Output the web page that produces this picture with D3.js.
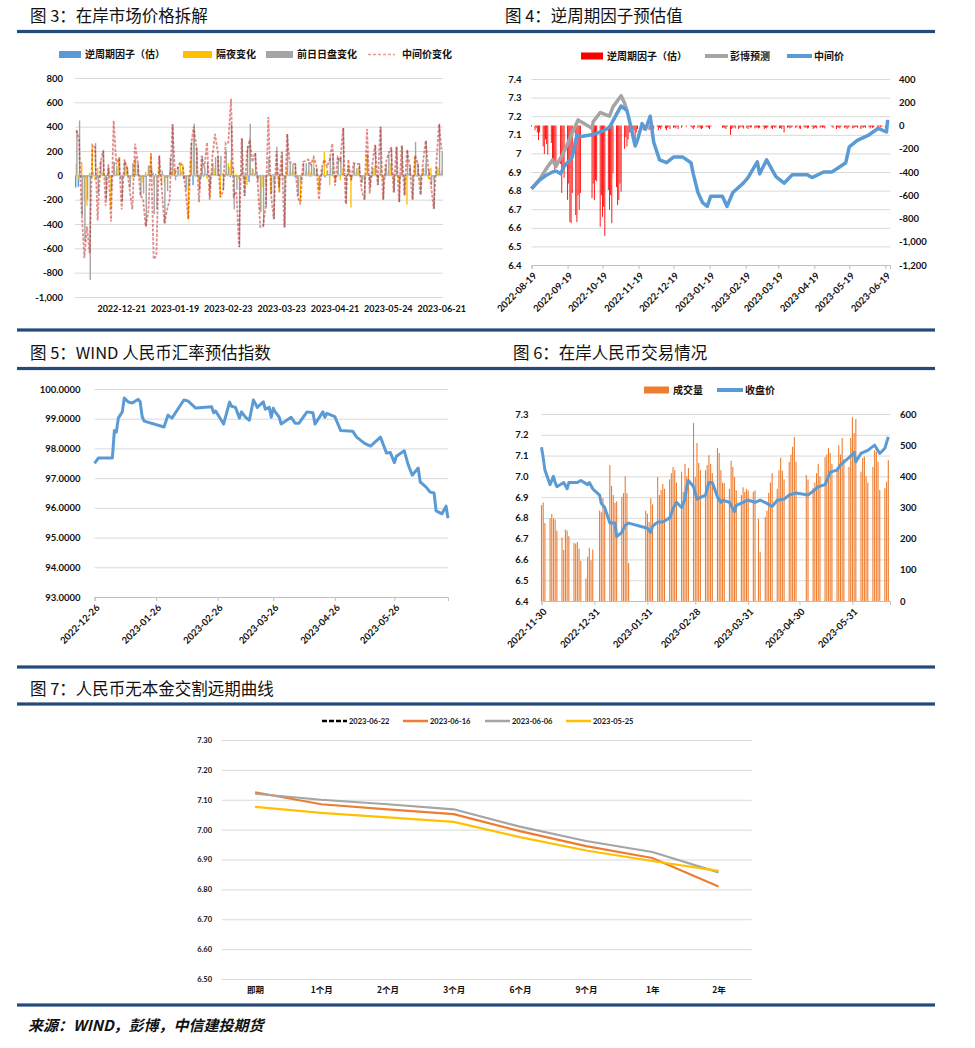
<!DOCTYPE html>
<html lang="zh">
<head>
<meta charset="utf-8">
<script src="https://cdn.jsdelivr.net/npm/d3@7"></script>
<style>
  body { margin: 0; background: #fff; }
  text { font-family: Lato, "Noto Sans CJK SC", sans-serif; }
  .title { font-family: "Noto Sans CJK SC", sans-serif; font-size: 16.5px; fill: #111; }
  .ax { font-size: 9.5px; font-weight: 700; fill: #111; }
  .ax9 { font-size: 9px; font-weight: 700; fill: #111; }
  .lg { font-family: "Noto Sans CJK SC", sans-serif; font-size: 10px; font-weight: 700; fill: #111; }
  .sm { font-size: 7.5px; font-weight: 700; fill: #111; }
  .smcn { font-family: "Noto Sans CJK SC", sans-serif; font-size: 8.5px; font-weight: 700; fill: #111; }
  .src { font-family: "Noto Sans CJK SC", sans-serif; font-size: 15px; font-style: italic; font-weight: 700; fill: #111; }
</style>
</head>
<body>
<svg id="chart" width="975" height="1048"></svg>
<script>
// CFETS holidays inside the plotted ranges
const HOLIDAYS = ["2022-09-12", "2022-10-03", "2022-10-04", "2022-10-05", "2022-10-06", "2022-10-07",
  "2023-01-02", "2023-01-23", "2023-01-24", "2023-01-25", "2023-01-26", "2023-01-27",
  "2023-04-05", "2023-05-01", "2023-05-02", "2023-05-03"];

// ---------- 图3 在岸市场价格拆解 (one value per trading day, 2022-11-28 .. 2023-06-21) ----------
const F3_FIRST_DAY = "2022-11-28";
const F3_LAST_DAY = "2023-06-21";
const F3_LABEL_FIRST = 17;
const F3_LABEL_EVERY = 20;
const f3Cycle = [
  -100, -95, -20, -15, -20, -10, -15, -5, -20, -10,
  -5, -10, 5, -15, -10, -5, 10, -20, -10, 5,
  -10, 5, -15, 5, -10, -20, -15, 10, -5, 20,
  10, -5, -10, 5, -20, -10, 30, -5, -10, 5,
  5, -20, -10, 5, -80, -10, 5, -20, -10, 10,
  -10, 5, 10, -5, -10, 5, -10, 10, -15, 5,
  -10, -10, 5, -10, 5, -55, 10, -5, 10, -10,
  5, -10, 5, -5, 10, -5, -10, 5, -10, 5,
  -5, 5, -10, 5, -5, 10, -5, 5, -10, 5,
  -5, 5, -10, 5, -5, 10, -5, 5, -10, 5,
  10, -5, 5, -10, 5, -5, 10, -5, -10, 5,
  5, -10, 5, -5, 10, -5, -10, 5, -5, 10,
  -5, 5, -10, 5, -5, 10, -5, 5, -10, 5,
  -5, 10, -5, 5, -10, 5, 10, 15];
const f3Overnight = [
  100, -30, 110, -200, -250, 20, 225, -40, 60, -20,
  30, -60, 40, -275, 100, 40, 150, -40, 30, 80,
  -40, -20, 130, 50, -30, -60, 30, 80, 180, -80,
  -20, 60, -80, -60, -20, 40, 60, 40, 30, 90,
  90, -40, -360, 130, 350, 120, -40, 80, 20, -30,
  -180, 40, 60, 150, -180, 20, 30, 100, 130, 60,
  10, -30, 40, -60, -80, 310, 60, 20, -50, -300,
  -100, -80, 40, -150, -60, 30, -140, 90, -40, 60,
  20, 40, 30, -80, -210, 20, 30, 40, 30, 140,
  30, -130, 20, 195, 40, -80, 60, -30, 40, -40,
  60, -30, 80, -265, 40, 30, 60, -60, -40, 170,
  -40, 30, 80, -20, 60, -40, 50, 40, 100, -60,
  40, -60, 100, -40, -240, 60, -30, 150, 30, -60,
  40, 100, -30, 60, -40, 30, 60, 40];
const f3DaySession = [
  370, 450, -330, -545, -200, -860, 30, 265, -150, 120,
  210, -200, 60, -120, 110, 80, 150, -215, 120, 60,
  -100, 100, 150, 100, -170, -150, -420, 80, 60, -320,
  -280, 165, 40, -395, -130, 145, 420, -40, 70, 40,
  -30, -120, -90, 270, 425, 230, -120, 160, 60, 100,
  -110, 100, 150, 160, 160, -120, 210, 70, 420, -280,
  -120, -590, 305, -170, 240, 425, 50, 185, -40, -300,
  -420, -260, 150, -150, -360, 235, -140, 195, -425, 340,
  100, 90, 100, -170, -60, 100, 100, 110, 90, 60,
  60, -100, 60, -20, 40, 150, 180, -50, 145, 145,
  390, -235, 60, -40, 100, 60, 95, -60, -200, 175,
  -100, 60, 250, -80, 400, -200, 90, 175, 230, -140,
  235, -220, 245, -165, 210, 80, -200, 275, 100, -160,
  60, 285, 50, -80, -275, 70, 425, 200];
const f3Fixing = [
  370, 300, -300, -680, -420, -640, 250, 230, -370, 100,
  200, -250, 90, -380, 450, 90, 140, -280, 130, 60,
  -120, -280, 260, 120, -170, -190, -420, -300, 180, -690,
  -660, 160, -100, -395, -285, -200, 420, 20, 60, 110,
  60, -130, -360, 240, 400, 240, -220, 160, 60, 270,
  -200, 150, 340, 200, -180, -130, 270, 270, 630, -170,
  -130, -590, 305, -170, 190, 290, 110, 185, -60, -425,
  -420, -260, 480, -150, -360, 200, -100, 190, -430, 340,
  110, 100, 90, -170, -240, 110, 120, 130, 90, 150,
  80, -200, 60, 130, 70, 130, 260, -85, 150, 120,
  390, -235, 130, -40, 100, 90, 95, -120, -200, 380,
  -150, 90, 250, -80, 400, -200, 100, 175, 230, -140,
  235, -220, 245, -165, 210, 80, -200, 165, 100, -160,
  110, 285, 60, -80, -275, 100, 420, 200];

// ---------- 图4 逆周期因子预估值 ----------
const F4_FIRST_DAY = "2022-08-19";
const F4_LAST_DAY = "2023-06-21";
const F4_TICKS = ["2022-08-19", "2022-09-19", "2022-10-19", "2022-11-19", "2022-12-19", "2023-01-19",
  "2023-02-19", "2023-03-19", "2023-04-19", "2023-05-19", "2023-06-19"];
const f4CycleFactor = [
  // Aug
  -10, -40, -20, -60, -125, -60, -180, -245, -120,
  // Sep
  -160, -250, -150, -280, -330, -380, -340, -330, -580, -385, -450, -640, -500, -830, -840, -580, -770, -830, -600, -725, -580,
  // Oct
  -625, -500, -640, -470, -480, -870, -600, -785, -700, -950, -555, -725, -600, -840, -410, -530,
  // Nov
  -685, -640, -500, -570, -200, -100, -180, -120, -60, -90, -40, -185, -60, -30, -50, -20, -40, -30, -20, -40, -30, -80,
  // Dec
  -20, -30, -10, -40, -20, -30, -15, -25, -40, -20, -10, -30, -20, -15, -25, -10, -30, -20, -5, 0, 0, -10,
  // Jan
  -10, -20, -30, -15, -20, -10, -25, -30, -20, -15, -10, -20, -30, -10, -20, -15,
  // Feb
  -20, -30, -10, -80, -30, -20, -10, -25, -30, -20, -10, -15, -25, -20, -30, -10, -20, -15, -25, -20,
  // Mar
  -15, -25, -20, -10, -30, -20, -25, -15, -20, -30, -10, -20, -15, -25, -20, -30, -10, -60, -20, -15, -25, -20, -10,
  // Apr
  -20, -15, -25, -30, -10, -20, -15, -25, -20, -10, -30, -20, -15, -25, -20, -10, -20, -15, -25,
  // May
  -10, -20, -30, -15, -20, -25, -10, -20, -15, -30, -20, -10, -25, -20, -15, -10, -20, -30, -15, -20,
  // Jun
  -10, -20, -15, -25, -10, -20, -15, -10, -20, -5, -15, -10, -20, -15, -10];
const f4MidDates = ["2022-08-19", "2022-08-26", "2022-08-31", "2022-09-06", "2022-09-09", "2022-09-13",
  "2022-09-16", "2022-09-23", "2022-09-27", "2022-09-29", "2022-10-10", "2022-10-19", "2022-10-25",
  "2022-10-31", "2022-11-04", "2022-11-09", "2022-11-11", "2022-11-16", "2022-11-18", "2022-11-22",
  "2022-11-25", "2022-11-29", "2022-12-02", "2022-12-07", "2022-12-13", "2022-12-19", "2022-12-27",
  "2023-01-03", "2023-01-05", "2023-01-09", "2023-01-13", "2023-01-17", "2023-01-20", "2023-01-30",
  "2023-02-03", "2023-02-08", "2023-02-17", "2023-02-21", "2023-03-01", "2023-03-03", "2023-03-09",
  "2023-03-17", "2023-03-24", "2023-03-31", "2023-04-13", "2023-04-17", "2023-04-27", "2023-05-04",
  "2023-05-09", "2023-05-16", "2023-05-19", "2023-05-26", "2023-06-05", "2023-06-13", "2023-06-20",
  "2023-06-21"];
const f4MidValues = [6.81, 6.857, 6.88, 6.90, 6.905, 6.89, 6.93, 6.98, 7.10, 7.09, 7.10, 7.12, 7.14,
  7.21, 7.255, 7.23, 7.18, 7.04, 7.07, 7.16, 7.13, 7.20, 7.06, 6.965, 6.95, 6.98, 6.98,
  6.95, 6.89, 6.79, 6.735, 6.715, 6.77, 6.77, 6.715, 6.79, 6.84, 6.87, 6.955, 6.89, 6.965,
  6.875, 6.84, 6.885, 6.885, 6.87, 6.90, 6.90, 6.92, 6.95, 7.035, 7.07, 7.10, 7.135, 7.115, 7.18];
const f4BbgDates = ["2022-08-19", "2022-08-26", "2022-09-01", "2022-09-06", "2022-09-09", "2022-09-16",
  "2022-09-28", "2022-10-10", "2022-10-11", "2022-10-17", "2022-10-21", "2022-10-25", "2022-10-28",
  "2022-11-04", "2022-11-07", "2022-11-09"];
const f4BbgValues = [6.81, 6.86, 6.92, 6.965, 6.93, 7.01, 7.18, 7.135, 7.17, 7.22, 7.21, 7.20, 7.25,
  7.31, 7.27, 7.23];

// ---------- 图5 WIND人民币汇率预估指数 ----------
const F5_TICKS = ["2022-12-26", "2023-01-26", "2023-02-26", "2023-03-26", "2023-04-26", "2023-05-26"];
const f5Dates = ["2022-12-26", "2022-12-28", "2023-01-04", "2023-01-05", "2023-01-06", "2023-01-07",
  "2023-01-09", "2023-01-10", "2023-01-12", "2023-01-14", "2023-01-17", "2023-01-18", "2023-01-19",
  "2023-01-20", "2023-01-30", "2023-02-01", "2023-02-03", "2023-02-09", "2023-02-11", "2023-02-15",
  "2023-02-23", "2023-02-24", "2023-02-25", "2023-03-01", "2023-03-04", "2023-03-05", "2023-03-07",
  "2023-03-09", "2023-03-10", "2023-03-12", "2023-03-14", "2023-03-16", "2023-03-18", "2023-03-21",
  "2023-03-22", "2023-03-24", "2023-03-25", "2023-03-26", "2023-03-27", "2023-03-29", "2023-03-30",
  "2023-04-04", "2023-04-06", "2023-04-08", "2023-04-12", "2023-04-15", "2023-04-16", "2023-04-20",
  "2023-04-21", "2023-04-22", "2023-04-26", "2023-04-29", "2023-05-05", "2023-05-07", "2023-05-11",
  "2023-05-14", "2023-05-19", "2023-05-22", "2023-05-24", "2023-05-26", "2023-05-27", "2023-05-31",
  "2023-06-02", "2023-06-04", "2023-06-07", "2023-06-08", "2023-06-11", "2023-06-13", "2023-06-15",
  "2023-06-16", "2023-06-19", "2023-06-21", "2023-06-22"];
const f5Values = [97.50, 97.68, 97.68, 98.60, 98.55, 99.02, 99.23, 99.70, 99.56, 99.53, 99.65, 99.57,
  99.07, 98.92, 98.72, 99.12, 99.02, 99.63, 99.60, 99.36, 99.40, 99.20, 99.26, 98.82, 99.56, 99.42,
  99.38, 99.02, 99.23, 99.05, 98.95, 99.63, 99.38, 99.57, 99.32, 99.38, 99.05, 99.35, 99.23, 99.05,
  98.82, 99.05, 98.85, 98.85, 99.23, 99.20, 98.82, 99.23, 99.05, 99.18, 99.07, 98.60, 98.58, 98.38,
  98.17, 98.08, 98.38, 97.85, 97.86, 97.52, 97.74, 97.92, 97.44, 97.10, 97.34, 96.87, 96.70, 96.53,
  96.50, 95.90, 95.80, 96.06, 95.65];

// ---------- 图6 在岸人民币交易情况 ----------
const F6_FIRST_DAY = "2022-11-30";
const F6_LAST_DAY = "2023-06-21";
const F6_TICKS = ["2022-11-30", "2022-12-31", "2023-01-31", "2023-02-28", "2023-03-31", "2023-04-30", "2023-05-31"];
const f6Volume = [
  308,
  316, 250, 265, 279, 265, 262, 226, 204, 164, 229, 226, 208, 186, 184, 189, 168, 129, 72, 142, 171, 131, 165,
  290, 285, 330, 300, 436, 369, 340, 315, 320, 334, 346, 400, 346, 122, 290, 280,
  253, 330, 310, 398, 340, 356, 375, 360, 390, 410, 430, 420, 380, 415, 350, 440, 400, 427, 571, 398,
  507, 443, 420, 420, 436, 468, 440, 410, 491, 475, 420, 380, 378, 360, 450, 430, 398, 355, 340, 365, 350, 360, 355,
  350, 355, 263, 158, 270, 290, 347, 380, 410, 360, 420, 460, 418, 390, 446, 470, 495, 526, 447,
  404, 390, 363, 380, 410, 440, 400, 462, 470, 491, 475, 440, 420, 500, 470, 523, 455, 430, 523, 590,
  539, 584, 415, 459, 463, 400, 380, 430, 484, 479, 447, 356, 362, 383, 452];
const f6CloseDates = ["2022-11-30", "2022-12-01", "2022-12-02", "2022-12-05", "2022-12-07", "2022-12-08",
  "2022-12-09", "2022-12-13", "2022-12-15", "2022-12-16", "2022-12-19", "2022-12-21", "2022-12-23",
  "2022-12-27", "2022-12-28", "2022-12-30", "2023-01-03", "2023-01-04", "2023-01-06", "2023-01-09",
  "2023-01-12", "2023-01-13", "2023-01-16", "2023-01-18", "2023-01-20", "2023-01-31", "2023-02-02",
  "2023-02-03", "2023-02-06", "2023-02-09", "2023-02-13", "2023-02-14", "2023-02-15", "2023-02-17",
  "2023-02-20", "2023-02-22", "2023-02-23", "2023-02-24", "2023-02-27", "2023-03-01", "2023-03-06",
  "2023-03-08", "2023-03-10", "2023-03-13", "2023-03-15", "2023-03-16", "2023-03-20", "2023-03-23",
  "2023-03-24", "2023-03-28", "2023-03-31", "2023-04-04", "2023-04-07", "2023-04-11", "2023-04-14",
  "2023-04-17", "2023-04-21", "2023-04-24", "2023-04-28", "2023-05-05", "2023-05-09", "2023-05-11",
  "2023-05-15", "2023-05-18", "2023-05-22", "2023-05-24", "2023-05-29", "2023-06-01", "2023-06-02",
  "2023-06-05", "2023-06-09", "2023-06-13", "2023-06-16", "2023-06-19", "2023-06-21"];
const f6CloseValues = [7.14, 7.09, 7.03, 6.96, 7.00, 6.97, 6.95, 6.97, 6.94, 6.97, 6.97, 6.97, 6.98,
  6.96, 6.97, 6.94, 6.91, 6.87, 6.85, 6.775, 6.775, 6.71, 6.73, 6.765, 6.775, 6.75, 6.73, 6.76, 6.78,
  6.78, 6.80, 6.82, 6.845, 6.875, 6.85, 6.89, 6.95, 6.98, 6.95, 6.89, 6.91, 6.97, 6.97, 6.90, 6.875,
  6.885, 6.875, 6.83, 6.86, 6.875, 6.885, 6.875, 6.885, 6.87, 6.855, 6.885, 6.89, 6.91, 6.92, 6.91,
  6.935, 6.95, 6.96, 7.02, 7.03, 7.055, 7.09, 7.115, 7.07, 7.11, 7.125, 7.15, 7.11, 7.135, 7.19];

// ---------- 图7 人民币无本金交割远期曲线 ----------
const f7Tenors = ["即期", "1个月", "2个月", "3个月", "6个月", "9个月", "1年", "2年"];
const f7Names = ["2023-06-22", "2023-06-16", "2023-06-06", "2023-05-25"];
const f7Jun22 = [];
const f7Jun16 = [7.125, 7.085, 7.068, 7.052, 6.995, 6.945, 6.905, 6.81];
const f7Jun06 = [7.12, 7.10, 7.085, 7.068, 7.01, 6.962, 6.925, 6.857];
const f7May25 = [7.076, 7.056, 7.041, 7.026, 6.975, 6.93, 6.895, 6.862];

// ---------- drawing ----------
const BLUE = "#5b9bd5", YELLOW = "#ffc000", GRAY = "#a5a5a5", ORANGE = "#ed7d31";
const GRID = "#d9d9d9", AXIS = "#bfbfbf", RULE = "#244a7c";
const parse = d3.timeParse("%Y-%m-%d");
const fmt = d3.timeFormat("%Y-%m-%d");
const NUM = d3.formatLocale({decimal: ".", thousands: ",", grouping: [3], currency: ["", ""], minus: "-"});
const svg = d3.select("#chart");

function tradingDays(start, end) {
  return d3.timeDay.range(parse(start), d3.timeDay.offset(parse(end), 1))
    .filter(d => d.getDay() % 6 !== 0 && !HOLIDAYS.includes(fmt(d)));
}

function gridAxis(g) {
  g.select(".domain").remove();
  g.selectAll(".tick line").attr("stroke", GRID);
  g.selectAll(".tick text").attr("class", "ax");
}

function plainAxis(g) {
  g.select(".domain").remove();
  g.selectAll(".tick text").attr("class", "ax");
}

function dateAxis(g) {
  g.select(".domain").attr("stroke", AXIS);
  g.selectAll(".tick line").attr("stroke", AXIS);
  g.selectAll(".tick text").attr("class", "ax")
    .attr("text-anchor", "end").attr("x", 0).attr("y", 0).attr("dy", "0.35em")
    .attr("transform", "translate(3,9) rotate(-45)");
}

// page frame: rules, titles, source
[31.5, 330, 368.5, 667, 704, 1005].forEach(y => {
  svg.append("rect").attr("x", 17).attr("y", y - 1.6).attr("width", 918).attr("height", 3.2).attr("fill", RULE);
});
const titles = [
  [30, 21.5, "图 3：在岸市场价格拆解"],
  [505, 21.5, "图 4：逆周期因子预估值"],
  [30, 358.5, "图 5：WIND 人民币汇率预估指数"],
  [513, 358.5, "图 6：在岸人民币交易情况"],
  [30, 695, "图 7：人民币无本金交割远期曲线"]
];
titles.forEach(([x, y, t]) => svg.append("text").attr("class", "title").attr("x", x).attr("y", y).text(t));
svg.append("text").attr("class", "src").attr("x", 28).attr("y", 1031).text("来源：WIND，彭博，中信建投期货");

function legendRect(g, x, y, w, color, label) {
  g.append("rect").attr("x", x).attr("y", y - 3.5).attr("width", w).attr("height", 7).attr("fill", color);
  g.append("text").attr("class", "lg").attr("x", x + w + 4).attr("y", y).attr("dy", "0.35em").text(label);
}
function legendLine(g, x, y, w, color, label, dash, cls, width) {
  g.append("line").attr("x1", x).attr("x2", x + w).attr("y1", y).attr("y2", y)
    .attr("stroke", color).attr("stroke-width", width || 4).attr("stroke-dasharray", dash || null);
  g.append("text").attr("class", cls || "lg").attr("x", x + w + 2).attr("y", y).attr("dy", "0.35em").text(label);
}

// ---- 图3 ----
(function () {
  const days = tradingDays(F3_FIRST_DAY, F3_LAST_DAY);
  const g = svg.append("g");
  const x = d3.scaleBand().domain(d3.range(days.length)).range([75, 443]);
  const y = d3.scaleLinear().domain([-1000, 800]).range([297, 78]);

  g.append("g").attr("transform", "translate(75,0)")
    .call(d3.axisLeft(y).tickValues(d3.range(-1000, 801, 200)).tickSize(-368).tickPadding(12)
      .tickFormat(NUM.format(",")))
    .call(gridAxis);

  const bars = (vals, dx, color) => g.append("g").selectAll("rect").data(vals).join("rect")
    .attr("x", (d, i) => x(i) + dx).attr("width", 1.4)
    .attr("y", d => y(Math.max(0, d))).attr("height", d => Math.abs(y(d) - y(0)))
    .attr("fill", color);
  bars(f3Cycle, 0, BLUE);
  bars(f3Overnight, 0.6, YELLOW);
  bars(f3DaySession, 1.2, GRAY);

  g.append("path").datum(f3Fixing)
    .attr("fill", "none").attr("stroke", "#c00000").attr("stroke-opacity", 0.45)
    .attr("stroke-width", 1.8).attr("stroke-dasharray", "3,1.5")
    .attr("d", d3.line().x((d, i) => x(i) + x.bandwidth() / 2).y(d => y(d)));

  g.append("g").attr("transform", "translate(0,297)")
    .call(d3.axisBottom(x).tickValues(d3.range(F3_LABEL_FIRST, days.length, F3_LABEL_EVERY))
      .tickFormat(i => fmt(days[i])).tickSize(0).tickPadding(9))
    .call(plainAxis)
    .call(a => a.selectAll(".tick text").attr("class", "ax9"));

  legendRect(g, 59, 54.5, 22, BLUE, "逆周期因子（估）");
  legendRect(g, 183, 54.5, 29, YELLOW, "隔夜变化");
  legendRect(g, 266, 54.5, 27, GRAY, "前日日盘变化");
  g.append("line").attr("x1", 368).attr("x2", 395).attr("y1", 54.5).attr("y2", 54.5)
    .attr("stroke", "#c00000").attr("stroke-opacity", 0.4).attr("stroke-width", 1.5).attr("stroke-dasharray", "3,2");
  g.append("text").attr("class", "lg").attr("x", 402).attr("y", 54.5).attr("dy", "0.35em").text("中间价变化");
})();

// ---- 图4 ----
(function () {
  const days = tradingDays(F4_FIRST_DAY, F4_LAST_DAY);
  const g = svg.append("g");
  const x = d3.scaleTime().domain([parse("2022-08-19"), parse("2023-06-23")]).range([531.5, 890]);
  const yL = d3.scaleLinear().domain([6.4, 7.4]).range([265, 79]);
  const yR = d3.scaleLinear().domain([-1200, 400]).range([265, 79]);

  g.append("g").attr("transform", "translate(531.5,0)")
    .call(d3.axisLeft(yL).ticks(10).tickSize(-358.5).tickPadding(10).tickFormat(d => String(+d.toFixed(1))))
    .call(gridAxis);
  g.append("g").attr("transform", "translate(890,0)")
    .call(d3.axisRight(yR).ticks(8).tickSize(0).tickPadding(9).tickFormat(NUM.format(",")))
    .call(plainAxis);

  g.append("g").selectAll("rect").data(f4CycleFactor).join("rect")
    .attr("x", (d, i) => x(days[i]) - 0.45).attr("width", 0.9)
    .attr("y", d => yR(Math.max(0, d))).attr("height", d => Math.abs(yR(d) - yR(0)))
    .attr("fill", "#ff0000");

  const line = (dates, vals, color) => g.append("path")
    .datum(vals.map((v, i) => [parse(dates[i]), v]))
    .attr("fill", "none").attr("stroke", color).attr("stroke-width", 3.5).attr("stroke-linejoin", "round")
    .attr("d", d3.line().x(d => x(d[0])).y(d => yL(d[1])));
  line(f4BbgDates, f4BbgValues, GRAY);
  line(f4MidDates, f4MidValues, BLUE);

  g.append("g").attr("transform", "translate(0,265)")
    .call(d3.axisBottom(x).tickValues(F4_TICKS.map(parse)).tickSize(4).tickFormat(fmt))
    .call(dateAxis);

  legendRect(g, 581, 56, 22, "#ff0000", "逆周期因子（估）");
  legendLine(g, 705, 56, 23, GRAY, "彭博预测");
  legendLine(g, 787, 56, 25, BLUE, "中间价");
})();

// ---- 图5 ----
(function () {
  const g = svg.append("g");
  const x = d3.scaleTime().domain([parse("2022-12-26"), parse("2023-06-22")]).range([94.5, 448]);
  const y = d3.scaleLinear().domain([93, 100]).range([597, 389]);

  g.append("g").attr("transform", "translate(94.5,0)")
    .call(d3.axisLeft(y).ticks(7).tickSize(-353.5).tickPadding(14).tickFormat(d3.format(".4f")))
    .call(gridAxis);

  g.append("path").datum(f5Values.map((v, i) => [parse(f5Dates[i]), v]))
    .attr("fill", "none").attr("stroke", BLUE).attr("stroke-width", 3).attr("stroke-linejoin", "round")
    .attr("d", d3.line().x(d => x(d[0])).y(d => y(d[1])));

  g.append("g").attr("transform", "translate(0,597)")
    .call(d3.axisBottom(x).tickValues(F5_TICKS.map(parse)).tickSize(4).tickFormat(fmt))
    .call(dateAxis);
})();

// ---- 图6 ----
(function () {
  const days = tradingDays(F6_FIRST_DAY, F6_LAST_DAY);
  const g = svg.append("g");
  const x = d3.scaleTime().domain([parse("2022-11-30"), parse("2023-06-22")]).range([541.5, 890]);
  const yL = d3.scaleLinear().domain([6.4, 7.3]).range([601, 414]);
  const yR = d3.scaleLinear().domain([0, 600]).range([601, 414]);

  g.append("g").attr("transform", "translate(541.5,0)")
    .call(d3.axisLeft(yL).ticks(9).tickSize(-348.5).tickPadding(13).tickFormat(d3.format(".1f")))
    .call(gridAxis);
  g.append("g").attr("transform", "translate(890,0)")
    .call(d3.axisRight(yR).ticks(6).tickSize(0).tickPadding(10))
    .call(plainAxis);

  g.append("g").selectAll("rect").data(f6Volume).join("rect")
    .attr("x", (d, i) => x(days[i]) - 0.55).attr("width", 1.1)
    .attr("y", d => yR(d)).attr("height", d => yR(0) - yR(d))
    .attr("fill", ORANGE);

  g.append("path").datum(f6CloseValues.map((v, i) => [parse(f6CloseDates[i]), v]))
    .attr("fill", "none").attr("stroke", BLUE).attr("stroke-width", 3).attr("stroke-linejoin", "round")
    .attr("d", d3.line().x(d => x(d[0])).y(d => yL(d[1])));

  g.append("g").attr("transform", "translate(0,601)")
    .call(d3.axisBottom(x).tickValues(F6_TICKS.map(parse)).tickSize(4).tickFormat(fmt))
    .call(dateAxis);

  legendRect(g, 644, 390, 25, ORANGE, "成交量");
  legendLine(g, 717, 390, 26, BLUE, "收盘价");
})();

// ---- 图7 ----
(function () {
  const g = svg.append("g");
  const x = d3.scalePoint().domain(f7Tenors).range([222, 751.6]).padding(0.5);
  const y = d3.scaleLinear().domain([6.5, 7.3]).range([979, 740]);

  g.append("g").attr("transform", "translate(222,0)")
    .call(d3.axisLeft(y).ticks(8).tickSize(-529.6).tickPadding(10).tickFormat(d3.format(".2f")))
    .call(gridAxis)
    .call(a => a.selectAll(".tick text").attr("class", "sm"));
  g.append("g").attr("transform", "translate(0,979)")
    .call(d3.axisBottom(x).tickSize(0).tickPadding(8))
    .call(plainAxis)
    .call(a => a.selectAll(".tick text").attr("class", "smcn"));

  const series = [
    [f7Jun22, "#000000", "5,2"],
    [f7Jun16, ORANGE, null],
    [f7Jun06, GRAY, null],
    [f7May25, YELLOW, null]
  ];
  const line = d3.line().x((d, i) => x(f7Tenors[i])).y(d => y(d));
  series.forEach(([vals, color, dash]) => {
    if (!vals.length) return;
    g.append("path").datum(vals).attr("fill", "none").attr("stroke", color)
      .attr("stroke-width", 2.2).attr("stroke-dasharray", dash).attr("d", line);
  });

  const lx = [322, 403, 485, 566];
  series.forEach(([vals, color, dash], i) => {
    legendLine(g, lx[i], 721, 25, color, f7Names[i], dash, "sm", 2.5);
  });
})();
</script>
</body>
</html>
